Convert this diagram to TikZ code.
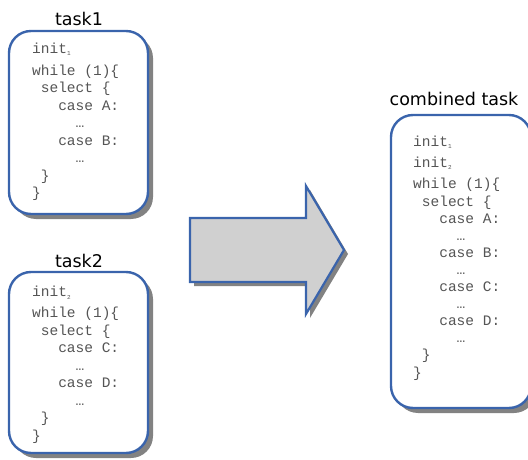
\documentclass[tikz,border=0pt]{standalone}
\usepackage{fontspec}
\setmainfont{DejaVu Sans}
\newfontfamily\codefont{Liberation Mono}
\usetikzlibrary{shadows}
\definecolor{boxblue}{RGB}{58,100,172}
\definecolor{codegray}{RGB}{85,85,85}
\definecolor{shadowgray}{RGB}{130,130,130}
\definecolor{arrowfill}{RGB}{208,208,208}
\newcommand{\cs}[1]{\hspace*{#1\dimexpr 8.7pt\relax}}
\newcommand{\sbs}[1]{\raisebox{-2.5pt}{\fontsize{6}{6}\selectfont #1}}
\begin{document}
\begin{tikzpicture}[x=1pt,y=-1pt,
  taskbox/.style={draw=boxblue, line width=2.4pt, fill=white, rounded corners=22pt,
     drop shadow={shadow xshift=5pt, shadow yshift=-5pt, fill=shadowgray, opacity=1}},
  title/.style={font=\fontsize{17.5}{20}\selectfont, anchor=base, inner sep=0pt},
  code/.style={font=\codefont\fontsize{14.5}{17.5}\selectfont, text=codegray, align=left, anchor=base west, inner sep=0pt}]
\useasboundingbox (0,0) rectangle (528,460);
\begin{scope}
\clip (0,0) rectangle (528,460);
% boxes
\node[taskbox, minimum width=139pt, minimum height=183pt] (t1) at (78.5,122.5) {};
\node[taskbox, minimum width=139pt, minimum height=181pt] (t2) at (78.5,362.5) {};
\node[taskbox, minimum width=140pt, minimum height=293pt] (ct) at (461,261.5) {};
% arrow
\fill[shadowgray] (194,222) -- (310,222) -- (310,190) -- (348,254) -- (310,318) -- (310,286) -- (194,286) -- cycle;
\draw[boxblue, line width=2.2pt, fill=arrowfill, line join=miter] (190,218) -- (306,218) -- (306,186) -- (344,250) -- (306,314) -- (306,282) -- (190,282) -- cycle;
\end{scope}
% titles
\node[title] (h1) at (79,26) {task1};
\node[title] (h2) at (79,267) {task2};
\node[title] (h3) at (454,106) {combined task};
% code (anchor = baseline of the last line)
\node[code] (c1) at (32,197.5) {init\sbs{1}\\[4.5pt]
while (1)\{\\
\cs{1}select \{\\
\cs{3}case A:\\
\cs{5}…\\
\cs{3}case B:\\
\cs{5}…\\
\cs{1}\}\\
\}};
\node[code] (c2) at (32,440) {init\sbs{2}\\[3.5pt]
while (1)\{\\
\cs{1}select \{\\
\cs{3}case C:\\
\cs{5}…\\
\cs{3}case D:\\
\cs{5}…\\
\cs{1}\}\\
\}};
\node[code, font=\codefont\fontsize{14.5}{17.1}\selectfont] (c3) at (413,377) {init\sbs{1}\\[3.9pt]
init\sbs{2}\\[4.8pt]
while (1)\{\\
\cs{1}select \{\\
\cs{3}case A:\\
\cs{5}…\\
\cs{3}case B:\\
\cs{5}…\\
\cs{3}case C:\\
\cs{5}…\\
\cs{3}case D:\\
\cs{5}…\\
\cs{1}\}\\
\}};
\end{tikzpicture}
\end{document}
